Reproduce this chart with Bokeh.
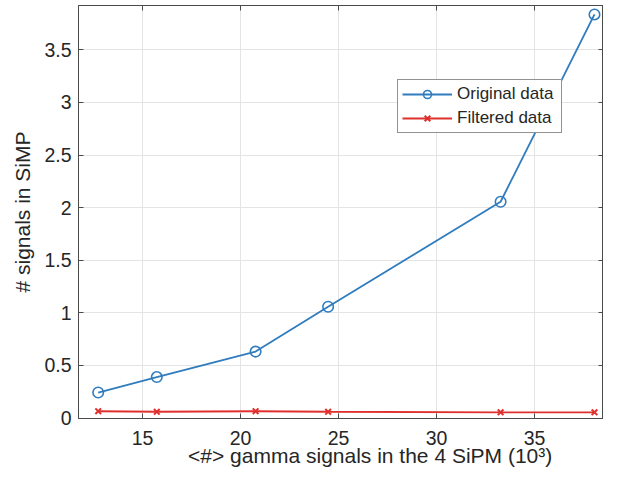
from bokeh.plotting import figure
from bokeh.models import Range1d, LinearAxis, Legend, LegendItem, FixedTicker
from bokeh.embed import file_html
from bokeh.resources import INLINE

# ---- data ----
x_gamma = [12.74, 15.73, 20.77, 24.47, 33.27, 38.06]
original = [0.243, 0.39, 0.632, 1.058, 2.056, 3.836]
filtered = [0.065, 0.060, 0.065, 0.060, 0.055, 0.055]
x_ticks = [15, 20, 25, 30, 35]
y_ticks = [0, 0.5, 1, 1.5, 2, 2.5, 3, 3.5]
y_tick_labels = ["0", "0.5", "1", "1.5", "2", "2.5", "3", "3.5"]
series_names = ["Original data", "Filtered data"]
x_title = "<#> gamma signals in the 4 SiPM (10³)"
y_title = "# signals in SiMP"

BLUE = "#2f7cbf"
RED = "#e0302d"
AX = "#4a4a4a"
TXT = "#262626"
FONT = "Liberation Sans"

p = figure(width=603, height=472, output_backend="svg", toolbar_location=None,
           x_range=Range1d(11.735, 38.52), y_range=Range1d(-0.004, 3.921))
p.min_border_left = 78
p.min_border_right = 0
p.min_border_top = 5
p.min_border_bottom = 54
p.outline_line_color = AX
p.background_fill_color = "white"

# axes styling
p.xaxis.ticker = FixedTicker(ticks=x_ticks)
p.yaxis.ticker = FixedTicker(ticks=y_ticks)
p.yaxis.major_label_overrides = {t: s for t, s in zip(y_ticks, y_tick_labels)}
for ax in (p.xaxis[0], p.yaxis[0]):
    ax.axis_line_color = AX
    ax.major_tick_line_color = AX
    ax.major_tick_in = 5
    ax.major_tick_out = 0
    ax.minor_tick_line_color = None
    ax.major_label_text_font = FONT
    ax.major_label_text_font_size = "19.5px"
    ax.major_label_text_color = TXT
    ax.axis_label_text_font = FONT
    ax.axis_label_text_font_size = "21px"
    ax.axis_label_text_font_style = "normal"
    ax.axis_label_text_color = TXT
p.yaxis.axis_label = y_title
# the reference's x title sits right of the frame centre: pad with no-break spaces
p.xaxis.axis_label = "\u00a0" * 10 + x_title
p.xaxis.major_label_standoff = 12
p.xaxis.axis_label_standoff = -4
p.yaxis.major_label_standoff = 7
p.yaxis.axis_label_standoff = 7

# box ticks on top and right
for loc, tk in (("above", x_ticks), ("right", y_ticks)):
    a = LinearAxis(ticker=FixedTicker(ticks=tk), major_label_text_font_size="0px",
                   major_label_standoff=0, major_tick_in=5, major_tick_out=0,
                   minor_tick_line_color=None, axis_line_color=AX,
                   major_tick_line_color=AX)
    p.add_layout(a, loc)

p.xgrid.ticker = FixedTicker(ticks=x_ticks)
p.ygrid.ticker = FixedTicker(ticks=y_ticks)
p.xgrid.grid_line_color = "#e4e4e4"
p.ygrid.grid_line_color = "#e4e4e4"

# series
l1 = p.line(x_gamma, original, line_color=BLUE, line_width=1.8)
s1 = p.scatter(x_gamma, original, marker="circle", size=10.5, fill_color=None,
               line_color=BLUE, line_width=1.6)
l2 = p.line(x_gamma, filtered, line_color=RED, line_width=1.8)
s2 = p.scatter(x_gamma, filtered, marker="x", size=8, line_color=RED, line_width=2)

legend = Legend(items=[LegendItem(label=series_names[0], renderers=[l1, s1]),
                       LegendItem(label=series_names[1], renderers=[l2, s2])],
                location=(319, 285), margin=0, padding=4, spacing=4,
                label_height=20, glyph_height=20, glyph_width=50,
                label_standoff=5, label_width=100,
                label_text_font=FONT, label_text_font_size="17px",
                label_text_color=TXT,
                border_line_color=TXT, border_line_width=1,
                background_fill_color="white", background_fill_alpha=1.0)
p.add_layout(legend)

open("out.html", "w").write(file_html(p, INLINE))
